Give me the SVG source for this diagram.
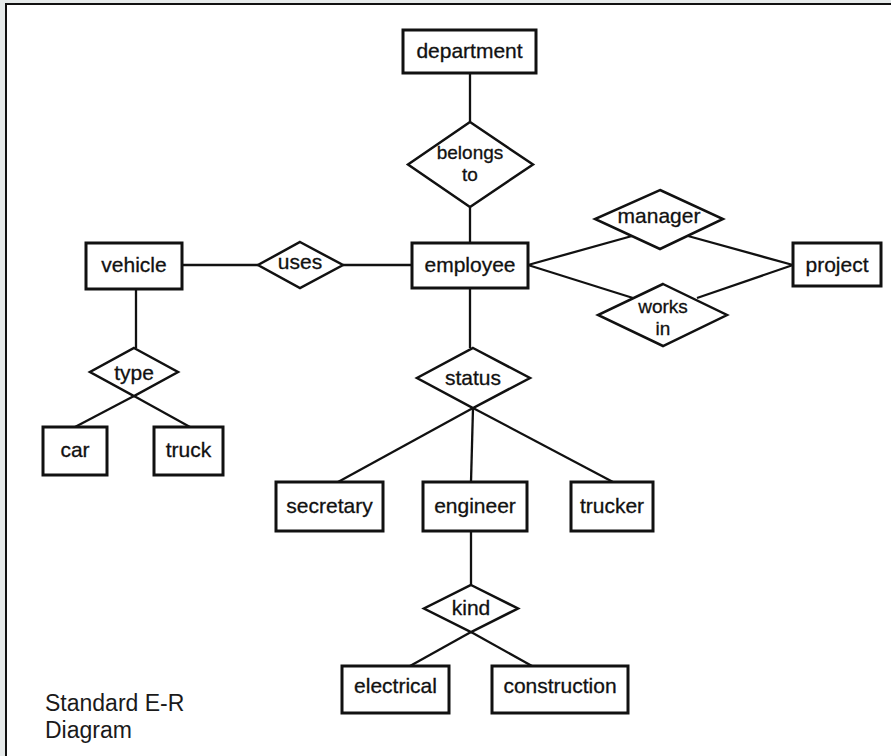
<svg xmlns="http://www.w3.org/2000/svg" width="891" height="756" viewBox="0 0 891 756">
  <style>
    .ent { fill: #fff; stroke: #111; stroke-width: 3; }
    .rel { fill: #fff; stroke: #111; stroke-width: 2.5; stroke-linejoin: miter; }
    .lbl { font-family: "Liberation Sans", Arial, sans-serif; font-size: 21px; fill: #111; text-anchor: middle; stroke: #111; stroke-width: 0.3; }
    .lbl2 { font-size: 19px; }
    .conn line { stroke: #111; stroke-width: 2.3; }
    .cap { font-family: "Liberation Sans", Arial, sans-serif; font-size: 23px; fill: #1a1a1a; }
  </style>

  <!-- page background and frame -->
  <rect x="0" y="0" width="891" height="756" fill="#e6eaea"/>
  <rect x="6" y="4" width="900" height="800" fill="#fff" stroke="#111" stroke-width="2"/>

  <!-- connectors -->
  <g id="connectors" class="conn">
    <line x1="470" y1="73" x2="470" y2="122"/>
    <line x1="470" y1="207" x2="470" y2="243"/>
    <line x1="182" y1="265" x2="258" y2="265"/>
    <line x1="343" y1="265" x2="412" y2="265"/>
    <line x1="528" y1="265" x2="632" y2="236"/>
    <line x1="688" y1="236" x2="793" y2="265"/>
    <line x1="528" y1="265" x2="633" y2="298"/>
    <line x1="697" y1="298" x2="793" y2="265"/>
    <line x1="136" y1="289" x2="136" y2="348"/>
    <line x1="134" y1="396" x2="75" y2="427"/>
    <line x1="134" y1="396" x2="190" y2="427"/>
    <line x1="470" y1="288" x2="470" y2="348"/>
    <line x1="473" y1="408" x2="338" y2="482"/>
    <line x1="473" y1="408" x2="471" y2="482"/>
    <line x1="473" y1="408" x2="613" y2="482"/>
    <line x1="471" y1="531" x2="471" y2="585"/>
    <line x1="471" y1="632" x2="410" y2="666"/>
    <line x1="471" y1="632" x2="532" y2="666"/>
  </g>

  <!-- entities -->
  <g id="department">
    <rect class="ent" x="403" y="30" width="133" height="43"/>
    <text class="lbl" x="469.5" y="58">department</text>
  </g>
  <g id="employee">
    <rect class="ent" x="412" y="243" width="116" height="45"/>
    <text class="lbl" x="470" y="272">employee</text>
  </g>
  <g id="project">
    <rect class="ent" x="793" y="243" width="88" height="43"/>
    <text class="lbl" x="837" y="272">project</text>
  </g>
  <g id="vehicle">
    <rect class="ent" x="86" y="243" width="96" height="46"/>
    <text class="lbl" x="134" y="272">vehicle</text>
  </g>
  <g id="car">
    <rect class="ent" x="43" y="427" width="64" height="48"/>
    <text class="lbl" x="75" y="457">car</text>
  </g>
  <g id="truck">
    <rect class="ent" x="154" y="427" width="69" height="48"/>
    <text class="lbl" x="188.5" y="457">truck</text>
  </g>
  <g id="secretary">
    <rect class="ent" x="276" y="482" width="107" height="49"/>
    <text class="lbl" x="329.5" y="513">secretary</text>
  </g>
  <g id="engineer">
    <rect class="ent" x="423" y="482" width="104" height="49"/>
    <text class="lbl" x="475" y="513">engineer</text>
  </g>
  <g id="trucker">
    <rect class="ent" x="571" y="482" width="82" height="49"/>
    <text class="lbl" x="612" y="513">trucker</text>
  </g>
  <g id="electrical">
    <rect class="ent" x="342" y="666" width="107" height="47"/>
    <text class="lbl" x="395.5" y="693">electrical</text>
  </g>
  <g id="construction">
    <rect class="ent" x="492" y="666" width="136" height="47"/>
    <text class="lbl" x="560" y="693">construction</text>
  </g>

  <!-- relationships -->
  <g id="belongs-to">
    <polygon class="rel" points="470,122 533,164.5 470,207 408,164.5"/>
    <text class="lbl lbl2" x="470" y="159">belongs</text>
    <text class="lbl lbl2" x="470" y="181">to</text>
  </g>
  <g id="uses">
    <polygon class="rel" points="300,242 343,265 300,288 258,265"/>
    <text class="lbl" x="300" y="269">uses</text>
  </g>
  <g id="manager">
    <polygon class="rel" points="660,190 723,219 660,249 595,219"/>
    <text class="lbl" x="659" y="223">manager</text>
  </g>
  <g id="works-in">
    <polygon class="rel" points="663,284 727,315 663,346 598,315"/>
    <text class="lbl lbl2" x="663" y="313">works</text>
    <text class="lbl lbl2" x="663" y="335">in</text>
  </g>
  <g id="type">
    <polygon class="rel" points="134,348 178,372 134,396 90,372"/>
    <text class="lbl" x="134" y="380">type</text>
  </g>
  <g id="status">
    <polygon class="rel" points="473,348 530,378 473,408 417,378"/>
    <text class="lbl" x="473" y="385">status</text>
  </g>
  <g id="kind">
    <polygon class="rel" points="471,585 518,608.5 471,632 424,608.5"/>
    <text class="lbl" x="471" y="615">kind</text>
  </g>

  <!-- caption -->
  <g id="caption">
    <text class="cap" x="45" y="711">Standard E-R</text>
    <text class="cap" x="45" y="738">Diagram</text>
  </g>
</svg>
